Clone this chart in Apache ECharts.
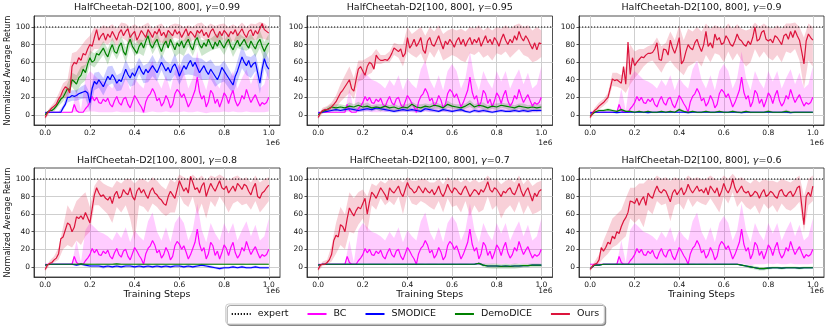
<!DOCTYPE html>
<html>
<head>
<meta charset="utf-8">
<title>HalfCheetah-D2 gamma sweep</title>
<script src="https://cdn.jsdelivr.net/npm/echarts@6.0.0/dist/echarts.min.js"></script>
<style>
html, body { margin: 0; padding: 0; background: #fff; }
#chart { width: 830px; height: 328px; }
</style>
</head>
<body>
<div id="chart"></div>
<script>
// evaluation step of the mean curves and of the shaded bands
var STEP_FINE = 10000;
var STEP_BAND = 20000;

var gammas = ['0.99', '0.95', '0.9', '0.8', '0.7', '0.6'];
var xTicks = [0, 200000, 400000, 600000, 800000, 1000000];
var yTicks = [0, 20, 40, 60, 80, 100];
var expertLevel = 100;

// BC does not depend on gamma: same curve in every panel
var bc = [
  3,3,3,3,3,3,3,3,3,3,
  3,3,3,12,5,3,3,3,7,10,
  14,21,16,20,14,13,18,15,19,12,
  9,16,21,14,11,18,20,12,8,15,
  22,18,13,9,3,15,21,24,30,25,
  16,19,10,14,22,17,8,12,24,29,
  26,20,24,17,9,14,21,28,43,26,
  18,22,9,15,28,24,13,18,9,16,
  25,21,13,22,28,16,10,14,22,18,
  29,21,14,19,23,16,10,14,12,14,
  20];
var bcLo = [
  3,3,3,3,3,3,3,3,3,3,
  4,4,3,3,3,3,4,3,3,3,
  4,3,2,3,4,3,3,4,3,3,
  3,4,3,3,4,3,2,3,3,3,
  4,3,4,3,3,4,3,3,3,3,
  4];
var bcHi = [
  3,3,3,3,3,3,4,30,5,42,
  50,45,40,38,35,30,40,33,45,28,
  42,35,30,52,62,40,30,45,28,50,
  58,50,30,42,72,42,28,50,38,30,
  50,38,50,30,42,52,35,48,30,35,
  55];

// ---- gamma 0.99 ----
var ours099 = [
  -3,2,5,8,10,12,18,22,28,32,
  30,25,55,60,58,65,62,70,68,75,
  80,78,88,97,85,90,93,85,92,88,
  95,90,85,93,97,90,95,98,88,92,
  95,85,90,96,92,88,97,93,88,95,
  92,98,90,94,88,96,93,90,97,92,
  95,88,93,98,90,95,92,88,96,93,
  97,90,94,88,95,98,92,88,95,90,
  96,93,89,95,92,97,90,94,98,92,
  88,95,97,90,96,92,98,104,97,95,
  93];
var oursLo099 = [
  -5,2,6,12,20,18,35,40,48,55,
  68,75,75,82,80,85,78,88,85,80,
  85,80,84,88,80,85,82,80,85,88,
  86,84,82,85,86,88,84,86,82,85,
  86,80,85,82,88,80,86,85,88,86,
  85];
var oursHi099 = [
  -1,8,14,24,36,40,70,72,78,85,
  90,100,98,102,100,103,98,105,104,100,
  103,100,102,105,98,102,104,98,102,104,
  103,100,102,100,104,105,100,104,101,103,
  104,100,103,100,105,100,104,103,106,104,
  100];
var demo099 = [
  0,3,5,5,7,10,14,18,20,25,
  30,28,40,38,35,42,45,52,48,58,
  65,60,62,70,68,72,76,70,66,74,
  80,72,70,78,82,72,68,80,86,78,
  74,70,78,82,76,84,90,80,76,82,
  86,78,72,80,84,76,86,80,74,82,
  78,84,76,82,86,78,74,84,88,80,
  76,82,78,86,80,75,83,78,85,80,
  76,82,86,78,74,80,85,78,82,86,
  80,76,84,79,75,82,86,78,72,78,
  82];
var demoSd099 = [
  1,2,3,4,5,6,8,10,10,9,
  8,8,7,8,9,8,7,8,9,8,
  7,8,9,8,7,8,9,8,7,8,
  8,9,8,7,8,9,8,7,8,9,
  8,7,8,9,8,7,8,9,10,11,
  10];
var smo099 = [
  2,3,3,3,3,3,3,3,8,12,
  20,20,22,21,22,24,25,26,27,25,
  14,30,38,35,40,36,32,38,44,40,
  46,42,36,40,38,45,52,46,42,48,
  44,50,56,50,46,52,48,52,56,52,
  48,54,60,55,50,54,48,55,58,52,
  44,50,56,52,58,62,55,60,54,48,
  52,56,50,46,52,48,44,40,46,54,
  50,46,42,38,34,44,50,58,66,60,
  56,62,54,58,60,48,36,52,64,56,
  52];
var smoSd099 = [
  0.5,0.5,0.5,0.5,3,6,6,6,7,8,
  10,10,9,10,11,10,9,10,11,10,
  10,9,10,11,12,10,9,11,10,12,
  10,11,12,10,11,12,10,11,12,10,
  12,11,10,12,13,11,12,10,12,11,
  12];

// ---- gamma 0.95 ----
var ours095 = [
  -3,2,5,6,6,7,9,12,15,20,
  25,28,32,36,40,30,27,40,52,55,
  50,45,55,60,58,52,68,64,62,62,
  63,62,65,70,76,74,72,75,66,70,
  88,76,80,86,78,82,88,74,70,84,
  88,80,78,84,90,82,75,84,80,86,
  82,77,84,88,80,86,78,84,88,80,
  86,82,88,78,84,90,82,86,80,88,
  84,78,86,92,85,80,86,82,90,85,
  95,88,84,90,86,80,75,82,74,82,
  81];
var oursLo095 = [
  -5,2,3,5,8,15,20,25,18,38,
  40,45,48,58,58,60,60,68,65,55,
  72,68,65,70,58,72,65,75,62,65,
  68,66,62,60,70,68,72,65,68,62,
  70,68,72,65,70,75,68,66,60,62,
  66];
var oursHi095 = [
  -1,8,10,14,22,35,45,55,42,62,
  62,65,68,75,68,68,72,82,80,80,
  100,92,96,100,90,100,95,102,92,96,
  98,96,98,95,100,98,102,96,100,96,
  100,98,102,98,102,104,100,102,96,100,
  96];
var demo095 = [
  0,4,6,9,8,9,8,10,9,11,
  9,10,8,9,8,10,8,9,7,9,
  8,12,9,8,10,9,11,10,8,12,
  10,9,8,10,13,9,11,10,8,10,
  9,11,10,9,8,10,9,8,9,8,
  9];
var demoSd095 = [
  1,2,3,3,4,3,3,4,3,4,
  3,4,3,3,4,3,3,4,3,3,
  4,3,3,4,3,3,4,3,3,4,
  3,3,4,3,4,3,3,4,3,3,
  4,3,3,4,3,3,4,3,3,4,
  3];
var smo095 = [
  2,3,4,5,6,5,6,7,6,5,
  6,7,6,8,7,6,5,4,5,6,
  5,6,5,4,7,6,5,4,6,5,
  4,5,6,4,3,5,4,5,4,3,
  4,5,4,4,5,4,5,4,5,5,
  5];
var smoSd095 = [
  0.5,1,1.5,2,2,2,2.5,2,2,2,
  2,2.5,2,2.5,2,2,2,1.5,2,2,
  2,2,2,1.5,2.5,2,2,1.5,2,2,
  1.5,2,2,1.5,1.5,2,1.5,2,1.5,1.5,
  1.5,2,1.5,1.5,2,1.5,2,1.5,2,2,
  2];

// ---- gamma 0.9 ----
var ours09 = [
  -3,2,5,7,10,12,14,17,20,30,
  41,39,40,38,36,55,35,83,46,65,
  56,60,63,66,65,68,70,70,71,75,
  82,63,62,75,74,68,85,76,70,78,
  88,58,62,72,80,76,74,82,86,78,
  72,80,95,78,82,76,92,85,88,80,
  82,90,86,80,78,84,92,86,84,80,
  78,84,80,88,100,84,86,94,96,86,
  84,86,82,90,88,84,80,90,92,86,
  95,88,96,90,85,72,58,84,92,88,
  85];
var oursLo09 = [
  -5,2,6,10,15,33,32,30,25,35,
  42,48,55,60,62,55,48,58,62,55,
  50,45,55,58,62,55,68,60,70,68,
  60,72,62,70,62,55,60,75,65,72,
  65,62,68,60,72,70,75,62,30,62,
  55];
var oursHi09 = [
  -1,8,14,18,25,48,48,45,55,80,
  72,75,75,78,80,88,78,82,95,85,
  102,85,98,95,100,95,104,98,102,100,
  98,104,98,103,98,96,98,105,100,104,
  100,98,102,98,104,104,105,100,88,104,
  100];
var demo09 = [
  -1,3,5,5,6,5,4,6,4,4,
  3,4,3,4,3,3,4,3,4,3,
  6,4,3,4,3,3,4,3,3,4,
  3,3,4,3,3,4,3,3,3,3,
  4,3,3,3,4,3,3,3,3,3,
  3];
var demoSd09 = [
  0.5,1,1.5,1.5,1.5,1.5,1,1.5,1,1,
  1,1,1,1,1,1,1,1,1,1,
  2,1,1,1,1,1,1,1,1,1,
  1,1,1.5,1,1,1,1,1,1,1,
  1.5,1,1,1,2,1,1,1,1,1,
  1];
var smo09 = [
  2,3,3,3,3,3,2.5,3,3,3,
  3,3,3,2.5,3,3,3,3,3,3,
  3,3,2.5,3,3,3,3,3,3,3,
  3,3,3,3,2.5,3,3,3,3,3,
  3,3,3,3,3,2.5,3,3,3,3,
  3];
var smoSd09 = [
  0.5,0.8,0.8,0.8,0.8,0.8,0.8,0.8,0.8,0.8,
  0.8,0.8,0.8,0.8,0.8,0.8,0.8,0.8,0.8,0.8,
  0.8,0.8,0.8,0.8,0.8,0.8,0.8,0.8,0.8,0.8,
  0.8,0.8,0.8,0.8,0.8,0.8,0.8,0.8,0.8,0.8,
  0.8,0.8,0.8,0.8,0.8,0.8,0.8,0.8,0.8,0.8,
  0.8];

// ---- gamma 0.8 ----
var ours08 = [
  -3,2,4,5,8,10,15,32,34,42,
  50,48,40,45,57,55,58,54,62,56,
  50,66,82,90,84,80,82,78,76,80,
  72,82,86,78,80,88,84,82,90,80,
  76,86,90,84,88,82,78,86,90,84,
  82,78,76,72,70,80,86,82,78,88,
  98,92,86,90,84,103,96,88,90,84,
  92,96,80,88,95,90,86,92,98,90,
  88,92,84,88,92,86,95,92,88,94,
  92,86,82,90,95,80,78,84,86,90,
  93];
var oursLo08 = [
  -5,2,5,8,20,25,22,30,25,35,
  40,70,70,65,60,50,68,62,70,55,
  30,70,68,62,72,68,62,58,62,62,
  82,72,68,80,60,72,55,75,68,80,
  72,62,72,75,70,72,65,75,62,68,
  75];
var oursHi08 = [
  -1,7,12,22,45,70,62,75,80,85,
  68,92,100,95,92,90,98,95,100,100,
  95,100,100,96,102,98,92,88,100,96,
  105,102,100,105,100,104,98,104,102,105,
  102,98,102,104,100,102,96,104,96,100,
  102];
var demo08 = [
  2,3,3,3,3,3,3,3,3.5,3,
  3,3,3,3,3,3,3.5,3,3,3,
  3,3,3,3,3,3,3,3,3,3,
  3,3,3,3,3,3,3,3,3,3,
  3,3,3,3,3,3,3,3,3,3,
  3];
var demoSd08 = [
  0.5,0.8,0.8,0.8,0.8,0.8,0.8,0.8,0.8,0.8,
  0.8,0.8,0.8,0.8,0.8,0.8,0.8,0.8,0.8,0.8,
  0.8,0.8,0.8,0.8,0.8,0.8,0.8,0.8,0.8,0.8,
  0.8,0.8,0.8,0.8,0.8,0.8,0.8,0.8,0.8,0.8,
  0.8,0.8,0.8,0.8,0.8,0.8,0.8,0.8,0.8,0.8,
  0.8];
var smo08 = [
  2,3,3,3,3,3,3,2,3,2,
  1,1,1,0,1,0,1,0,1,1,
  0,1,0,1,0,1,0,1,0,1,
  1,0,1,0,1,2,1,0,-1,-2,
  -1,-1,0,-1,0,-1,-1,0,-1,-1,
  -1];
var smoSd08 = [
  0.5,0.8,0.8,0.8,0.8,0.8,0.8,1,1,1.5,
  1.5,1.5,1.5,2,1.5,1.5,1.5,1.5,1.5,1.5,
  1.5,1.5,1.5,1.5,1.5,1.5,1.5,1.5,1.5,1.5,
  1.5,1.5,1.5,1.5,1.5,1.5,1.5,1.5,1.5,1.5,
  1.5,1.5,1.5,1.5,1.5,1.5,1.5,1.5,1.5,1.5,
  1.5];

// ---- gamma 0.7 ----
var ours07 = [
  -3,2,3,3,5,8,14,30,36,34,
  48,46,40,55,67,62,58,64,68,66,
  72,78,60,74,85,82,78,84,90,86,
  82,76,90,86,84,88,92,84,80,88,
  96,90,88,84,86,92,88,84,90,86,
  84,88,82,86,92,84,80,86,94,88,
  84,90,88,84,82,88,92,86,80,84,
  88,86,82,88,85,90,97,88,85,90,
  88,84,80,86,84,88,90,84,82,88,
  95,86,80,86,90,82,75,84,80,86,
  88];
var oursLo07 = [
  -5,1,3,6,15,25,20,40,38,48,
  55,40,70,65,78,70,75,70,80,60,
  82,72,70,75,72,68,65,75,62,78,
  68,70,62,75,58,70,62,65,80,65,
  70,55,65,70,62,75,60,70,60,62,
  65];
var oursHi07 = [
  -1,6,8,24,50,68,60,85,78,85,
  88,80,95,92,98,95,100,98,100,96,
  102,98,98,100,100,96,96,100,94,102,
  98,100,96,100,96,100,96,98,104,98,
  100,94,98,100,96,104,94,100,92,96,
  98];
var demo07 = [
  2,3,3,3,3,3,3,3,3,3,
  3,3,3,3,3,3,3,3,3,3,
  3,3,3,3,3,3,3,3,3,3,
  3,3,3,3,3,3,4,2,1,1,
  1,0.5,1,0.5,1,1,1.5,1.5,2,2,
  2];
var demoSd07 = [
  0.5,0.8,0.8,0.8,0.8,0.8,0.8,0.8,0.8,0.8,
  0.8,0.8,0.8,0.8,0.8,0.8,0.8,0.8,0.8,0.8,
  0.8,0.8,0.8,0.8,0.8,0.8,0.8,0.8,0.8,0.8,
  0.8,0.8,0.8,0.8,0.8,0.8,1,2,2.5,3,
  3,2.5,3,2.5,3,2.5,2,2,2,2,
  2];
var smo07 = [
  2,3,3,3,3,3,3,3,3,3,
  3,3,3,3,3,3,3,3,3,3,
  3,3,3,3,3,3,3,3,3,3,
  3,3,3,3,3,3,4,2,1,1,
  1,0.5,1,0.5,1,1,1.5,1.5,2,2,
  2];
var smoSd07 = [
  0.5,0.5,0.5,0.5,0.5,0.5,0.5,0.5,0.5,0.5,
  0.5,0.5,0.5,0.5,0.5,0.5,0.5,0.5,0.5,0.5,
  0.5,0.5,0.5,0.5,0.5,0.5,0.5,0.5,0.5,0.5,
  0.5,0.5,0.5,0.5,0.5,0.5,0.5,0.5,0.5,0.5,
  0.5,0.5,0.5,0.5,0.5,0.5,0.5,0.5,0.5,0.5,
  0.5];

// ---- gamma 0.6 ----
var ours06 = [
  -3,1,3,4,8,22,18,22,28,26,
  35,32,40,38,46,52,56,62,75,74,
  72,78,70,76,80,70,84,80,78,86,
  92,86,84,88,86,80,74,84,88,82,
  86,90,82,86,94,88,84,88,92,86,
  88,84,90,82,92,88,84,90,80,86,
  95,88,84,90,100,90,84,88,92,86,
  84,86,80,82,86,84,78,84,88,80,
  82,86,84,80,78,86,88,82,80,84,
  86,80,84,90,92,70,48,80,85,80,
  92];
var oursLo06 = [
  -5,1,4,10,15,22,25,30,35,55,
  50,55,45,65,60,75,70,72,52,70,
  72,65,78,68,75,72,70,78,70,62,
  80,72,85,68,75,68,65,70,60,72,
  66,70,62,72,66,64,68,74,40,70,
  75];
var oursHi06 = [
  -1,6,14,30,42,55,60,65,78,90,
  90,95,95,100,98,104,100,102,98,102,
  100,98,104,100,102,100,100,104,100,98,
  104,100,106,100,102,98,95,100,96,100,
  98,98,96,100,98,96,100,104,80,100,
  104];
var demo06 = [
  -2,2,2,3,3,3,3,3,3,3,
  3,3,3,3,3,3,3,3,3,3,
  3,3,3,3,3,3,3,3,3,3,
  3,3,3,3,2,1,0,-1,-2,-2,
  -1.5,-1,-1,-1.5,-1,-1,-1,-1.5,-1,-1,
  -1];
var demoSd06 = [
  0.5,0.8,0.8,0.8,0.8,0.8,0.8,0.8,0.8,0.8,
  0.8,0.8,0.8,0.8,0.8,0.8,0.8,0.8,0.8,0.8,
  0.8,0.8,0.8,0.8,0.8,0.8,0.8,0.8,0.8,0.8,
  0.8,0.8,0.8,0.8,1,1.5,2,2,2,2,
  1.5,1.5,1.5,1.5,1.5,1.5,1.5,1.5,1.5,1.5,
  1.5];
var smo06 = [
  -2,2,2,3,3,3,3,3,3,3,
  3,3,3,3,3,3,3,3,3,3,
  3,3,3,3,3,3,3,3,3,3,
  3,3,3,3,2,1,0,-1,-2,-2,
  -1.5,-1,-1,-1.5,-1,-1,-1,-1.5,-1,-1,
  -1];
var smoSd06 = [
  0.5,0.5,0.5,0.5,0.5,0.5,0.5,0.5,0.5,0.5,
  0.5,0.5,0.5,0.5,0.5,0.5,0.5,0.5,0.5,0.5,
  0.5,0.5,0.5,0.5,0.5,0.5,0.5,0.5,0.5,0.5,
  0.5,0.5,0.5,0.5,0.5,0.5,0.5,0.5,0.5,0.5,
  0.5,0.5,0.5,0.5,0.5,0.5,0.5,0.5,0.5,0.5,
  0.5];

var panels = [
  {ours: ours099, lo: oursLo099, hi: oursHi099, demo: demo099, demoSd: demoSd099, smo: smo099, smoSd: smoSd099, otherStep: STEP_FINE},
  {ours: ours095, lo: oursLo095, hi: oursHi095, demo: demo095, demoSd: demoSd095, smo: smo095, smoSd: smoSd095, otherStep: STEP_BAND},
  {ours: ours09,  lo: oursLo09,  hi: oursHi09,  demo: demo09,  demoSd: demoSd09,  smo: smo09,  smoSd: smoSd09,  otherStep: STEP_BAND},
  {ours: ours08,  lo: oursLo08,  hi: oursHi08,  demo: demo08,  demoSd: demoSd08,  smo: smo08,  smoSd: smoSd08,  otherStep: STEP_BAND},
  {ours: ours07,  lo: oursLo07,  hi: oursHi07,  demo: demo07,  demoSd: demoSd07,  smo: smo07,  smoSd: smoSd07,  otherStep: STEP_BAND},
  {ours: ours06,  lo: oursLo06,  hi: oursHi06,  demo: demo06,  demoSd: demoSd06,  smo: smo06,  smoSd: smoSd06,  otherStep: STEP_BAND}
];

var C_BC = '#ff00ff', C_SMO = '#0000ff', C_DEMO = '#008000', C_OURS = '#dc143c';
var F_BC = 'rgba(255,0,255,0.2)', F_SMO = 'rgba(0,0,255,0.2)', F_DEMO = 'rgba(0,128,0,0.2)', F_OURS = 'rgba(220,20,60,0.2)';
var FONT = 'DejaVu Sans';

// plot boxes (pixels)
var boxes = [
  {left: 34, top: 16, width: 246, height: 109},
  {left: 307, top: 16, width: 245.5, height: 109},
  {left: 579, top: 16, width: 245, height: 109},
  {left: 34, top: 168, width: 246, height: 109},
  {left: 307, top: 168, width: 245.5, height: 109},
  {left: 579, top: 168, width: 245, height: 109}
];

function toPairs(vals, step) {
  return vals.map(function (v, i) { return [i * step, v]; });
}

function lineSeries(idx, name, vals, step, color) {
  return {
    type: 'line', name: name, xAxisIndex: idx, yAxisIndex: idx,
    data: toPairs(vals, step), symbol: 'none', showSymbol: false,
    color: color, lineStyle: {width: 1.2, color: color},
    silent: true, animation: false
  };
}

function bandSeries(idx, lo, hi, fill) {
  var data = lo.map(function (v, i) { return [i * STEP_BAND, v, hi[i]]; });
  return {
    type: 'custom', xAxisIndex: idx, yAxisIndex: idx, silent: true, animation: false,
    data: data, encode: {x: 0, y: [1, 2]},
    renderItem: function (params, api) {
      if (params.dataIndex !== 0) return;
      var pts = [];
      for (var i = 0; i < data.length; i++) pts.push(api.coord([data[i][0], data[i][2]]));
      for (var j = data.length - 1; j >= 0; j--) pts.push(api.coord([data[j][0], data[j][1]]));
      return {type: 'polygon', shape: {points: pts}, style: {fill: fill}};
    }
  };
}

// band from a mean curve and a spread sampled every STEP_BAND
function sdBand(idx, mean, step, sd, fill) {
  var k = STEP_BAND / step;
  var lo = sd.map(function (s, i) { return mean[i * k] - s; });
  var hi = sd.map(function (s, i) { return mean[i * k] + s; });
  return bandSeries(idx, lo, hi, fill);
}

var grids = [], xAxes = [], yAxes = [], series = [], titles = [], graphics = [];

panels.forEach(function (p, idx) {
  var b = boxes[idx];
  var bottomRow = idx >= 3;
  grids.push({left: b.left, top: b.top, width: b.width, height: b.height,
    show: true, borderColor: '#222', borderWidth: 0.8, backgroundColor: 'transparent'});

  xAxes.push({
    type: 'value', gridIndex: idx, min: -50000, max: 1050000,
    name: bottomRow ? 'Training Steps' : '', nameLocation: 'middle', nameGap: 12,
    nameTextStyle: {fontFamily: FONT, fontSize: 9.5, color: '#111'},
    axisLine: {onZero: false, lineStyle: {color: '#222', width: 0.8}},
    axisTick: {customValues: xTicks, length: 2.5, lineStyle: {color: '#222', width: 0.8}},
    axisLabel: {customValues: xTicks, margin: 4, fontFamily: FONT, fontSize: 7.5, color: '#111',
      formatter: function (v) { return (v / 1e6).toFixed(1); }},
    splitLine: {show: true, lineStyle: {color: '#cfcfcf', width: 1}}
  });

  yAxes.push({
    type: 'value', gridIndex: idx, min: -11.5, max: 112.5,
    name: idx % 3 === 0 ? 'Normalized Average Return' : '', nameLocation: 'middle', nameGap: 20,
    nameTextStyle: {fontFamily: FONT, fontSize: 8, color: '#111'},
    axisLine: {onZero: false, lineStyle: {color: '#222', width: 0.8}},
    axisTick: {customValues: yTicks, length: 2.5, lineStyle: {color: '#222', width: 0.8}},
    axisLabel: {customValues: yTicks, margin: 4, fontFamily: FONT, fontSize: 7.5, color: '#111'},
    splitLine: {show: true, lineStyle: {color: '#cfcfcf', width: 1}}
  });

  titles.push({
    text: 'HalfCheetah-D2[100, 800], {g|γ}=' + gammas[idx],
    left: b.left + b.width / 2, top: bottomRow ? 155.5 : 2.5, textAlign: 'center', padding: 0,
    textStyle: {fontFamily: FONT, fontSize: 9.5, fontWeight: 'normal', color: '#111',
      rich: {g: {fontFamily: FONT, fontSize: 9.5, fontStyle: 'italic', color: '#111'}}}
  });

  graphics.push({
    type: 'text', x: b.left + b.width, y: bottomRow ? 291 : 143, silent: true,
    style: {text: '1e6', fill: '#111', font: '7.5px "DejaVu Sans"',
      textAlign: 'right', textVerticalAlign: 'middle', align: 'right', verticalAlign: 'middle'}
  });

  series.push(bandSeries(idx, bcLo, bcHi, F_BC));
  series.push(lineSeries(idx, 'BC', bc, STEP_FINE, C_BC));
  series.push(sdBand(idx, p.smo, p.otherStep, p.smoSd, F_SMO));
  series.push(lineSeries(idx, 'SMODICE', p.smo, p.otherStep, C_SMO));
  series.push(sdBand(idx, p.demo, p.otherStep, p.demoSd, F_DEMO));
  series.push(lineSeries(idx, 'DemoDICE', p.demo, p.otherStep, C_DEMO));
  series.push(bandSeries(idx, p.lo, p.hi, F_OURS));
  series.push(lineSeries(idx, 'Ours', p.ours, STEP_FINE, C_OURS));
  series.push({
    type: 'line', name: 'expert', xAxisIndex: idx, yAxisIndex: idx,
    data: [[-50000, expertLevel], [1050000, expertLevel]], symbol: 'none', showSymbol: false,
    color: '#000', lineStyle: {width: 1.2, color: '#000', type: [1.2, 1.8]},
    silent: true, animation: false
  });
});

var chart = echarts.init(document.getElementById('chart'), null, {renderer: 'canvas'});
chart.setOption({
  animation: false,
  backgroundColor: '#fff',
  textStyle: {fontFamily: FONT},
  title: titles,
  grid: grids,
  xAxis: xAxes,
  yAxis: yAxes,
  legend: {
    data: ['expert', 'BC', 'SMODICE', 'DemoDICE', 'Ours'],
    left: 'center', top: 304, padding: [4, 5],
    // a near-zero item height hides the marker the line legend puts in the middle
    itemWidth: 19, itemHeight: 0.3, itemGap: 18,
    textStyle: {fontFamily: FONT, fontSize: 9.5, color: '#111', padding: [0, 0, 0, 2], lineHeight: 12},
    backgroundColor: '#fff', borderColor: '#cccccc', borderWidth: 1, borderRadius: 3,
    shadowColor: 'rgba(0,0,0,0.35)', shadowOffsetX: 1.5, shadowOffsetY: 1.5, shadowBlur: 0,
    selectedMode: false
  },
  graphic: graphics,
  series: series
});
</script>
</body>
</html>
